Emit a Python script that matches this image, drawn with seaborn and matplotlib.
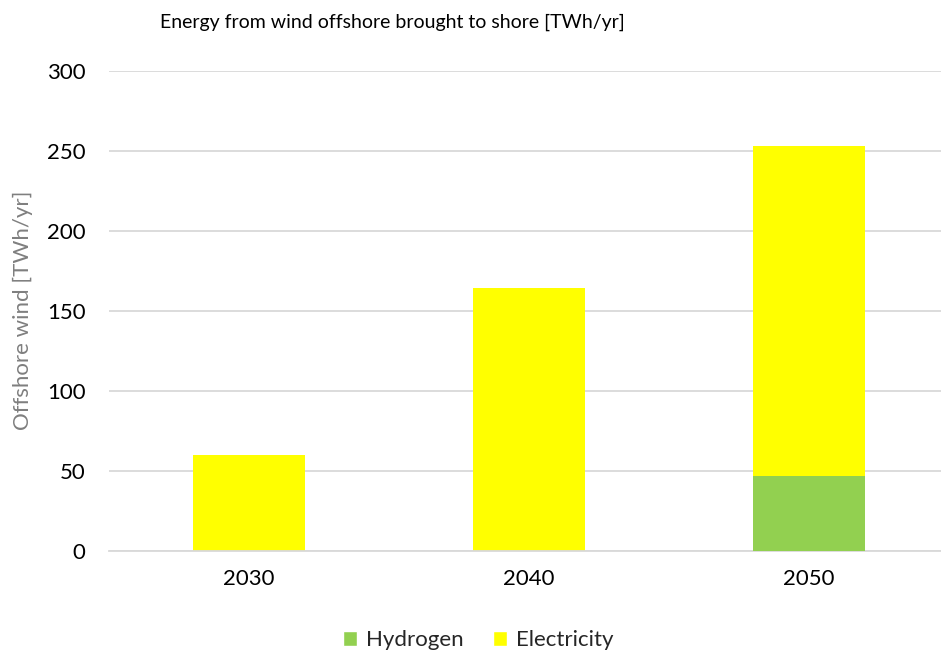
import pandas as pd
import matplotlib
matplotlib.use("Agg")
import matplotlib.pyplot as plt
import seaborn as sns
from matplotlib.patches import Patch

# data
years = ["2030", "2040", "2050"]
hydrogen = [0, 0, 47]
electricity = [60, 164, 206]

GREEN = "#92D050"
YELLOW = "#FFFF00"
FS = 16

sns.set_style("white")
plt.rcParams["font.family"] = ["Lato", "DejaVu Sans"]

df = pd.DataFrame({"year": years, "Hydrogen": hydrogen, "Electricity": electricity})
df["total"] = df["Hydrogen"] + df["Electricity"]

fig = plt.figure(figsize=(9.41, 6.55), dpi=100)
ax = fig.add_axes([109 / 941, (655 - 550.7) / 655, 840 / 941, 480 / 655])

# stacked bars: total first (electricity on top), then hydrogen at the bottom
sns.barplot(data=df, x="year", y="total", color=YELLOW, width=0.4,
            saturation=1, linewidth=0, ax=ax, zorder=2)
sns.barplot(data=df, x="year", y="Hydrogen", color=GREEN, width=0.4,
            saturation=1, linewidth=0, ax=ax, zorder=3)

ax.set_ylim(0, 300)
ax.set_yticks(range(0, 301, 50))
ax.yaxis.grid(True, color="#D9D9D9", linewidth=1.3, zorder=0)
ax.set_axisbelow(True)
for s in ["top", "right", "left"]:
    ax.spines[s].set_visible(False)
ax.spines["bottom"].set_color("#D9D9D9")
ax.spines["bottom"].set_linewidth(1.3)
ax.tick_params(axis="both", length=0, labelsize=FS, colors="#000000")
ax.tick_params(axis="y", pad=17)
ax.tick_params(axis="x", pad=13)
ax.set_xlabel("")
ax.set_ylabel("Offshore wind [TWh/yr]", fontsize=FS, color="#7F7F7F", labelpad=10)

fig.text(392 / 941, 1 - 22 / 655, "Energy from wind offshore brought to shore [TWh/yr]",
         ha="center", va="center", fontsize=14, color="#000000")

handles = [Patch(facecolor=GREEN, label="Hydrogen"),
           Patch(facecolor=YELLOW, label="Electricity")]
fig.legend(handles=handles, loc="center", bbox_to_anchor=(478 / 941, 1 - 640 / 655),
           ncol=2, frameon=False, fontsize=FS, handlelength=0.65, handleheight=0.65,
           handletextpad=0.4, columnspacing=1.3)

fig.savefig("out.png", dpi=100)
